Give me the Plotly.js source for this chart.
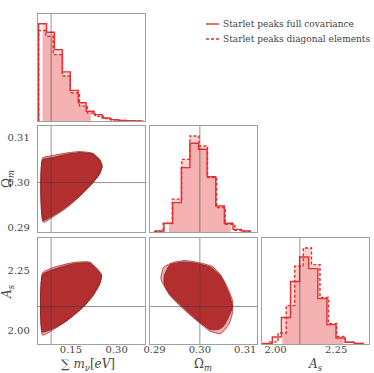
<!DOCTYPE html>
<html>
<head>
<meta charset="utf-8">
<script src="https://cdn.plot.ly/plotly-3.0.1.min.js"></script>
<style>
  html, body { margin: 0; padding: 0; background: #fff; }
  #grafico { width: 374px; height: 373px; }
</style>
</head>
<body>
<div id="grafico"></div>
<script>
// parametros y valores verdaderos
const etiquetas = ['∑ <i>m</i><sub><i>ν</i></sub>[<i>eV</i>]', 'Ω<sub><i>m</i></sub>', '<i>A</i><sub><i>s</i></sub>'];
const verdaderos = [0.085, 0.30, 2.10];
const rangos = [[0.042, 0.393], [0.289, 0.3126], [1.944, 2.385]];
const ticksMnu = [0.15, 0.30], textoMnu = ['0.15', '0.30'];
const ticksOm = [0.29, 0.30, 0.31], textoOm = ['0.29', '0.30', '0.31'];
const ticksAs = [2.00, 2.25], textoAs = ['2.00', '2.25'];
const leyenda = ['Starlet peaks full covariance', 'Starlet peaks diagonal elements'];

// histogramas marginales (altura relativa)
const bordesMnuCompleta = [0.044, 0.070, 0.096, 0.122, 0.148, 0.174, 0.200, 0.226, 0.252, 0.278, 0.304, 0.330, 0.356, 0.382];
const mnuCompleta = [0.909, 0.83, 0.667, 0.459, 0.286, 0.17, 0.091, 0.06, 0.028, 0.013, 0.006, 0.003, 0.001];
const bordesMnuDiagonal = [0.044, 0.068, 0.092, 0.122, 0.148, 0.178, 0.204, 0.230, 0.256, 0.282, 0.308, 0.334, 0.360, 0.386];
const mnuDiagonal = [0.846, 0.792, 0.62, 0.42, 0.264, 0.139, 0.075, 0.044, 0.022, 0.01, 0.005, 0.002, 0.001];

const bordesOmCompleta = [0.2902, 0.2921, 0.2940, 0.2959, 0.2978, 0.2997, 0.3016, 0.3035, 0.3054, 0.3073, 0.3092, 0.3111];
const omCompleta = [0.01, 0.082, 0.277, 0.607, 0.837, 0.78, 0.522, 0.245, 0.082, 0.025, 0.01];
const bordesOmDiagonal = [0.2900, 0.2919, 0.2939, 0.2960, 0.2978, 0.2998, 0.3017, 0.3037, 0.3056, 0.3077, 0.3094, 0.3113];
const omDiagonal = [0.005, 0.08, 0.31, 0.685, 0.906, 0.812, 0.513, 0.23, 0.072, 0.016, 0.005];

const bordesAsCompleta = [1.949, 1.9865, 2.024, 2.0615, 2.099, 2.1365, 2.174, 2.2115, 2.249, 2.2865, 2.324, 2.3615];
const asCompleta = [0.005, 0.066, 0.25, 0.59, 0.821, 0.711, 0.428, 0.183, 0.057, 0.016, 0.005];
const bordesAsDiagonal = [1.940, 1.975, 2.010, 2.044, 2.079, 2.114, 2.148, 2.183, 2.218, 2.252, 2.287, 2.322, 2.357];
const asDiagonal = [0.003, 0.02, 0.104, 0.362, 0.733, 0.906, 0.749, 0.44, 0.192, 0.072, 0.016, 0.005];

// intervalo sombreado de cada marginal
const sombraMnu = [0.057, 0.215];
const sombraOm = [0.2932, 0.3068];
const sombraAs = [2.028, 2.28];

// contornos 2D
const contMnuOmDiagX = [0.057, 0.081, 0.136, 0.180, 0.223, 0.245, 0.253, 0.243, 0.218, 0.180, 0.136, 0.092, 0.059, 0.057];
const contMnuOmDiagY = [0.3055, 0.3059, 0.3066, 0.3069, 0.3065, 0.3051, 0.3036, 0.3018, 0.2996, 0.2970, 0.2944, 0.2924, 0.2912, 0.3055];
const contMnuOmCompX = [0.057, 0.090, 0.136, 0.180, 0.221, 0.244, 0.252, 0.243, 0.218, 0.180, 0.136, 0.092, 0.059, 0.057];
const contMnuOmCompY = [0.3051, 0.3056, 0.3063, 0.3067, 0.3064, 0.3051, 0.3036, 0.3018, 0.2997, 0.2971, 0.2946, 0.2927, 0.2916, 0.3051];

const contMnuAsDiagX = [0.057, 0.092, 0.158, 0.212, 0.234, 0.251, 0.245, 0.223, 0.190, 0.136, 0.092, 0.057, 0.057];
const contMnuAsDiagY = [2.240, 2.262, 2.283, 2.285, 2.260, 2.231, 2.196, 2.146, 2.097, 2.040, 2.004, 1.981, 2.240];
const contMnuAsCompX = [0.057, 0.092, 0.158, 0.211, 0.233, 0.250, 0.245, 0.222, 0.190, 0.136, 0.092, 0.057, 0.057];
const contMnuAsCompY = [2.233, 2.254, 2.278, 2.281, 2.258, 2.230, 2.195, 2.145, 2.097, 2.041, 2.008, 1.994, 2.233];

const contOmAsDiagX = [0.2914, 0.2920, 0.2942, 0.2968, 0.2994, 0.3027, 0.3046, 0.3060, 0.3072, 0.3072, 0.3064, 0.3046, 0.3023, 0.2994, 0.2964, 0.2934, 0.2918, 0.2914];
const contOmAsDiagY = [2.217, 2.263, 2.284, 2.291, 2.284, 2.267, 2.231, 2.182, 2.125, 2.075, 2.026, 1.987, 1.997, 2.040, 2.089, 2.146, 2.196, 2.217];
const contOmAsCompX = [0.2922, 0.2934, 0.2964, 0.2994, 0.3023, 0.3046, 0.3064, 0.3072, 0.3053, 0.3042, 0.3023, 0.2994, 0.2964, 0.2934, 0.2921, 0.2922];
const contOmAsCompY = [2.231, 2.274, 2.285, 2.279, 2.264, 2.226, 2.155, 2.097, 2.020, 2.005, 2.004, 2.044, 2.095, 2.150, 2.196, 2.231];

const ANCHO = 374, ALTO = 373;
const ROJO = '#e23030';
const FUENTE = 'DejaVu Serif';
const columnas = [[38, 145], [150, 257], [262, 369]];
const filas = [[14, 121], [126, 232], [238, 344]];

function escalon(bordes, alturas) {
  const xs = [bordes[0]], ys = [0];
  alturas.forEach((h, i) => { xs.push(bordes[i]); ys.push(h); });
  xs.push(bordes[bordes.length - 1]); ys.push(0);
  return { xs, ys };
}

function escalonRecortado(bordes, alturas, lo, hi) {
  const alturaEn = v => {
    for (let i = 0; i < alturas.length; i++) if (v >= bordes[i] && v < bordes[i + 1]) return alturas[i];
    return 0;
  };
  const xs = [lo, lo], ys = [0, alturaEn(lo)];
  for (let i = 1; i < bordes.length - 1; i++) {
    if (bordes[i] > lo && bordes[i] < hi) { xs.push(bordes[i]); ys.push(alturas[i]); }
  }
  xs.push(hi); ys.push(0);
  return { xs, ys };
}

function marginal(ejes, bordesC, altC, bordesD, altD, sombra) {
  const [xa, ya] = ejes;
  const trazas = [];
  [[bordesC, altC], [bordesD, altD]].forEach(([b, h]) => {
    const s = escalonRecortado(b, h, sombra[0], sombra[1]);
    trazas.push({ x: s.xs, y: s.ys, xaxis: xa, yaxis: ya, mode: 'lines', line: { shape: 'hv', width: 0 },
      fill: 'tozeroy', fillcolor: 'rgba(235,105,105,0.3)', hoverinfo: 'skip', showlegend: false });
  });
  const c = escalon(bordesC, altC);
  trazas.push({ x: c.xs, y: c.ys, xaxis: xa, yaxis: ya, mode: 'lines', line: { shape: 'hv', color: ROJO, width: 1.4 }, showlegend: false });
  const d = escalon(bordesD, altD);
  trazas.push({ x: d.xs, y: d.ys, xaxis: xa, yaxis: ya, mode: 'lines', line: { shape: 'hv', color: ROJO, width: 1.4, dash: '3px,2px' }, showlegend: false });
  return trazas;
}

function contorno(ejes, dx, dy, cx, cy) {
  const [xa, ya] = ejes;
  return [
    { x: dx, y: dy, xaxis: xa, yaxis: ya, mode: 'lines', fill: 'toself', fillcolor: 'rgba(235,165,165,0.9)',
      line: { color: '#a82828', width: 0.8, shape: 'spline', smoothing: 0.5 }, showlegend: false },
    { x: cx, y: cy, xaxis: xa, yaxis: ya, mode: 'lines', fill: 'toself', fillcolor: 'rgba(176,40,40,0.95)',
      line: { color: '#8e1f1f', width: 0.8, shape: 'spline', smoothing: 0.5 }, showlegend: false }
  ];
}

function eje(dominio, rango, ticks, textos, conEtiquetas, separacion, anclaje) {
  return {
    domain: dominio, range: rango, anchor: anclaje,
    tickvals: ticks, ticktext: textos, showticklabels: conEtiquetas,
    ticks: '', ticklabelstandoff: separacion,
    tickfont: { family: FUENTE, size: 10, color: '#444' },
    showline: true, mirror: true, linecolor: '#a0a0a0', linewidth: 1.2,
    showgrid: false, zeroline: false, fixedrange: true
  };
}

const domX = c => [columnas[c][0] / ANCHO, columnas[c][1] / ANCHO];
const domY = f => [1 - filas[f][1] / ALTO, 1 - filas[f][0] / ALTO];

const datos = [
  ...marginal(['x', 'y'], bordesMnuCompleta, mnuCompleta, bordesMnuDiagonal, mnuDiagonal, sombraMnu),
  ...contorno(['x2', 'y2'], contMnuOmDiagX, contMnuOmDiagY, contMnuOmCompX, contMnuOmCompY),
  ...marginal(['x3', 'y3'], bordesOmCompleta, omCompleta, bordesOmDiagonal, omDiagonal, sombraOm),
  ...contorno(['x4', 'y4'], contMnuAsDiagX, contMnuAsDiagY, contMnuAsCompX, contMnuAsCompY),
  ...contorno(['x5', 'y5'], contOmAsDiagX, contOmAsDiagY, contOmAsCompX, contOmAsCompY),
  ...marginal(['x6', 'y6'], bordesAsCompleta, asCompleta, bordesAsDiagonal, asDiagonal, sombraAs)
];

// paneles: [sufijo, columna, fila]
const paneles = [['', 0, 0], ['2', 0, 1], ['3', 1, 1], ['4', 0, 2], ['5', 1, 2], ['6', 2, 2]];
const ticksCol = [[ticksMnu, textoMnu], [ticksOm, textoOm], [ticksAs, textoAs]];

const layout = {
  width: ANCHO, height: ALTO,
  margin: { l: 0, r: 0, t: 0, b: 0 },
  paper_bgcolor: '#fff', plot_bgcolor: '#fff',
  font: { family: FUENTE, color: '#444' },
  showlegend: false,
  shapes: [], annotations: []
};

paneles.forEach(([s, c, f]) => {
  const abajo = f === 2;
  const izquierda = c === 0 && f > 0;
  layout['xaxis' + s] = eje(domX(c), rangos[c], ticksCol[c][0], ticksCol[c][1], abajo, -4, 'y' + s);
  if (c === f) {
    layout['yaxis' + s] = eje(domY(f), [0, 1], [], [], false, 0, 'x' + s);
  } else {
    layout['yaxis' + s] = eje(domY(f), rangos[f], ticksCol[f][0], ticksCol[f][1], izquierda, 5, 'x' + s);
  }
  // lineas de valores verdaderos
  layout.shapes.push({ type: 'line', xref: 'x' + s, yref: 'y' + s + ' domain', x0: verdaderos[c], x1: verdaderos[c], y0: 0, y1: 1,
    line: { color: 'rgba(60,60,60,0.55)', width: 1 } });
  if (c !== f) {
    layout.shapes.push({ type: 'line', xref: 'x' + s + ' domain', yref: 'y' + s, x0: 0, x1: 1, y0: verdaderos[f], y1: verdaderos[f],
      line: { color: 'rgba(60,60,60,0.55)', width: 1 } });
  }
});

// titulos de los ejes
const fuenteTitulo = { family: FUENTE, size: 12, color: '#444' };
[0, 1, 2].forEach(c => {
  layout.annotations.push({ text: etiquetas[c], xref: 'paper', yref: 'paper',
    x: (columnas[c][0] + columnas[c][1]) / 2 / ANCHO - (c === 0 ? 4 / ANCHO : 0), y: 1 - 365 / ALTO,
    xanchor: 'center', yanchor: 'middle', showarrow: false, font: fuenteTitulo });
});
[1, 2].forEach(f => {
  layout.annotations.push({ text: etiquetas[f], xref: 'paper', yref: 'paper', textangle: -90,
    x: 8 / ANCHO, y: 1 - (filas[f][0] + filas[f][1]) / 2 / ALTO,
    xanchor: 'center', yanchor: 'middle', showarrow: false, font: fuenteTitulo });
});

// leyenda manual
leyenda.forEach((txt, i) => {
  const yPx = 24 + i * 15;
  layout.shapes.push({ type: 'line', xref: 'paper', yref: 'paper', x0: 206 / ANCHO, x1: 219 / ANCHO, y0: 1 - yPx / ALTO, y1: 1 - yPx / ALTO,
    line: { color: ROJO, width: 1.4, dash: i === 0 ? 'solid' : '3px,2px' } });
  layout.annotations.push({ text: txt, xref: 'paper', yref: 'paper', x: 221 / ANCHO, y: 1 - yPx / ALTO, xanchor: 'left', yanchor: 'middle',
    showarrow: false, font: { family: FUENTE, size: 9, color: '#444' } });
});

Plotly.newPlot('grafico', datos, layout, { displayModeBar: false, staticPlot: true });
</script>
</body>
</html>
